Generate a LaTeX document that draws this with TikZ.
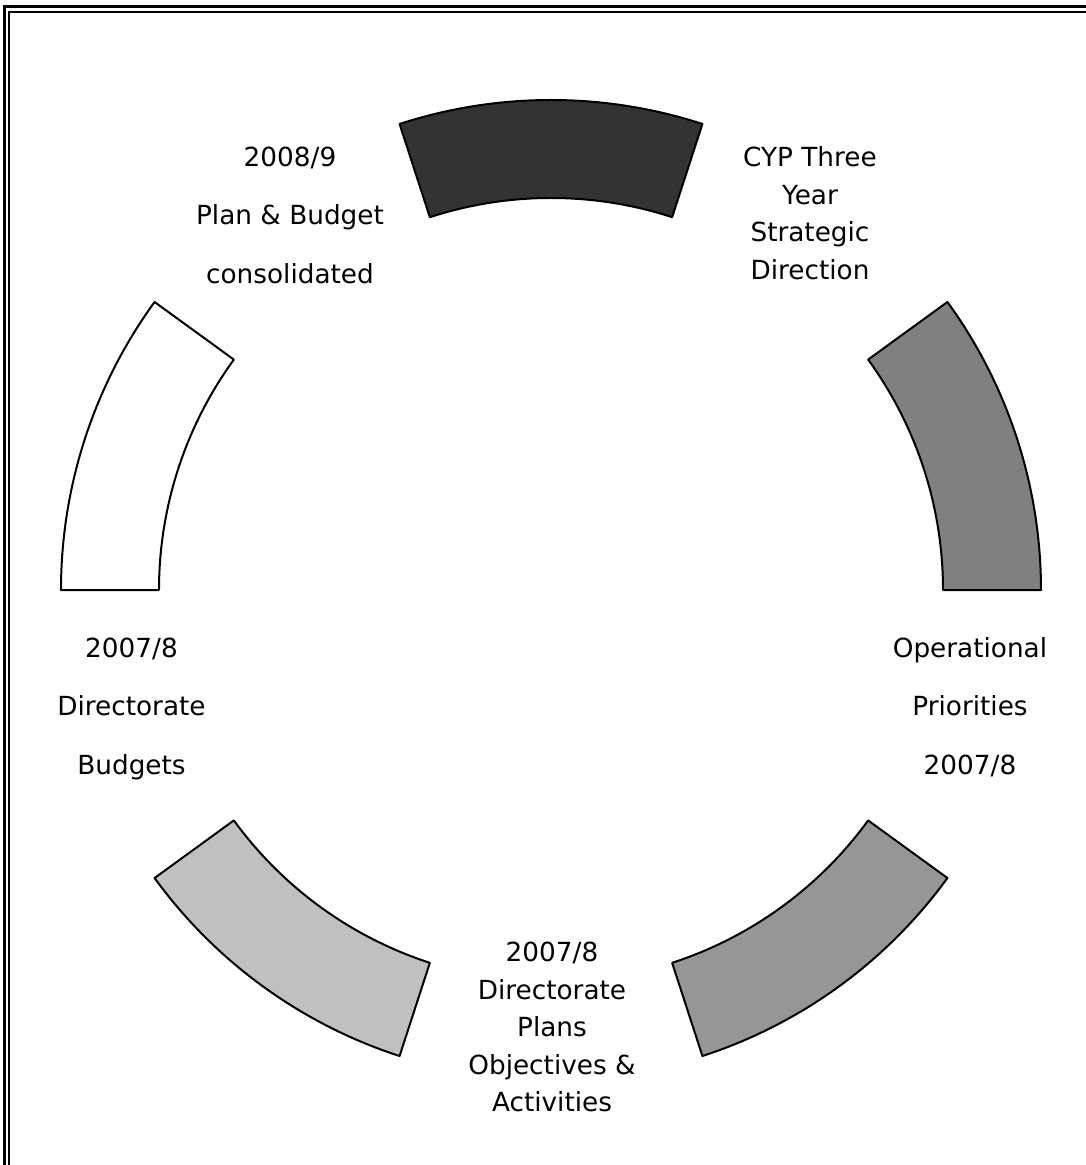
\documentclass[tikz,border=0pt]{standalone}
\usepackage{fontspec}
\setmainfont{DejaVu Sans}

\definecolor{phaseA}{HTML}{333333}
\definecolor{phaseB}{HTML}{808080}
\definecolor{phaseC}{HTML}{969696}
\definecolor{phaseD}{HTML}{C0C0C0}
\definecolor{phaseE}{HTML}{FFFFFF}

\begin{document}
\begin{tikzpicture}[x=1pt, y=1pt,
        phase/.style={draw=black, line width=2, line join=round},
        lbl/.style={anchor=north, inner sep=0, align=center, font=\fontsize{26.3}{37.5}\selectfont},
        lblwide/.style={lbl, font=\fontsize{26.3}{58.5}\selectfont}]
        \useasboundingbox (-551,-575) rectangle (535,590);
        % frame
        \draw[line width=3] (-546.5,-575) |- (535,583.5);
        \draw[line width=2] (-541.5,-575) |- (535,577.5);
        % ring
        \draw[phase, fill=phaseA] (72:490) arc[start angle=72, end angle=108, radius=490]
            -- (108:392) arc[start angle=108, end angle=72, radius=392] -- cycle;
        \draw[phase, fill=phaseB] (0:490) arc[start angle=0, end angle=36, radius=490]
            -- (36:392) arc[start angle=36, end angle=0, radius=392] -- cycle;
        \draw[phase, fill=phaseC] (-72:490) arc[start angle=-72, end angle=-36, radius=490]
            -- (-36:392) arc[start angle=-36, end angle=-72, radius=392] -- cycle;
        \draw[phase, fill=phaseD] (-144:490) arc[start angle=-144, end angle=-108, radius=490]
            -- (-108:392) arc[start angle=-108, end angle=-144, radius=392] -- cycle;
        \draw[phase, fill=phaseE] (144:490) arc[start angle=144, end angle=180, radius=490]
            -- (180:392) arc[start angle=180, end angle=144, radius=392] -- cycle;
        % labels
        \node[lbl] (strategy) at (259,443.5) {CYP Three\\Year\\Strategic\\Direction};
        \node[lblwide] (priorities) at (419,-47) {Operational\\Priorities\\2007/8};
        \node[lbl] (plans) at (1,-352) {2007/8\\Directorate\\Plans\\Objectives \&\\Activities};
        \node[lblwide] (budgets) at (-419.5,-47.5) {2007/8\\Directorate\\Budgets};
        \node[lblwide] (consolidated) at (-261,443.5) {2008/9\\Plan \& Budget\\consolidated};
\end{tikzpicture}
\end{document}
